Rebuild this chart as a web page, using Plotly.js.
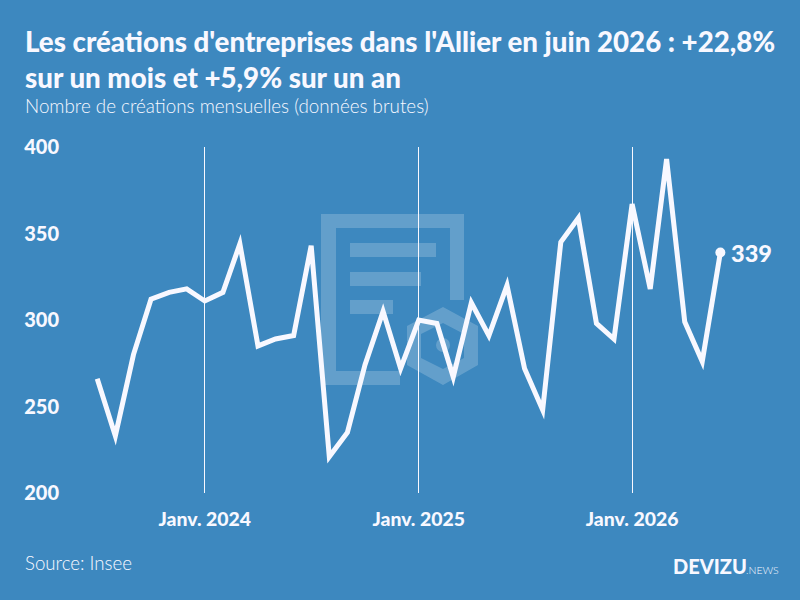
<!DOCTYPE html>
<html><head><meta charset="utf-8">
<script src="https://cdn.plot.ly/plotly-3.0.1.min.js"></script>
<style>html,body{margin:0;padding:0;background:#3d88bf}</style></head>
<body><div id="chart" style="width:800px;height:600px"></div>
<script>
const months = ["2023-07-01","2023-08-01","2023-09-01","2023-10-01","2023-11-01","2023-12-01",
"2024-01-01","2024-02-01","2024-03-01","2024-04-01","2024-05-01","2024-06-01","2024-07-01","2024-08-01","2024-09-01","2024-10-01","2024-11-01","2024-12-01",
"2025-01-01","2025-02-01","2025-03-01","2025-04-01","2025-05-01","2025-06-01","2025-07-01","2025-08-01","2025-09-01","2025-10-01","2025-11-01","2025-12-01",
"2026-01-01","2026-02-01","2026-03-01","2026-04-01","2026-05-01","2026-06-01"];
const creations = [266,233,280,312,316,318,311,316,344,285,289,291,343,221,235,274,305,272,300,298,267,310,291,320,272,248,345,359,298,289,367,318,393,299,276,339];
const tickDates = ["2024-01-01","2025-01-01","2026-01-01"];
const tickLabels = ["Janv. 2024","Janv. 2025","Janv. 2026"];
const yTicks = [200,250,300,350,400];
const INK = "#f8f8ff", BG = "#3d88bf", FONT = "Lato, 'Open Sans', sans-serif";
const W = 800, H = 600;
const wm = {type:"path",xref:"paper",yref:"paper",line:{width:0},fillcolor:"rgba(255,255,255,0.2)",layer:"below"};
const margin = {l:68,r:20,t:147,b:107};
const pw = W-margin.l-margin.r, ph = H-margin.t-margin.b;
const pxp = x => (x-margin.l)/pw, pyp = y => (margin.t+ph-y)/ph;
function P(pts){ return pts.map((p,i)=>(i?"L":"M")+pxp(p[0]).toFixed(4)+","+pyp(p[1]).toFixed(4)).join(" ")+" Z"; }
const shapes = [
 {...wm,path:P([[400,385],[321,385],[321,214],[464,214],[464,300],[450,300],[450,228],[336,228],[336,371],[400,371]])},
 {...wm,path:P([[350,243],[436,243],[436,257],[350,257]])},
 {...wm,path:P([[350,272],[421,272],[421,286],[350,286]])},
 {...wm,path:P([[350,300],[393,300],[393,314],[350,314]])},
 {...wm,path:P([[443,307],[478,326],[478,365],[443,385],[407,365],[407,326],[443,307],[443,323],[421,334],[421,358],[443,369],[464,358],[464,334],[443,323]])},
 {type:"circle",xref:"paper",yref:"paper",line:{width:0},fillcolor:"rgba(255,255,255,0.2)",layer:"below",x0:pxp(436),x1:pxp(450),y0:pyp(352),y1:pyp(338)}
];
const n = months.length-1;
const traces = [
 {x:months,y:creations,type:"scatter",mode:"lines",line:{color:INK,width:5},hoverinfo:"skip",cliponaxis:false},
 {x:[months[n]],y:[creations[n]],type:"scatter",mode:"markers",marker:{color:INK,size:10},cliponaxis:false,hoverinfo:"skip"}
];
const anno = (text,x,y,size,weight)=>({text,xref:"paper",yref:"paper",x:pxp(x),y:pyp(y),xanchor:"left",yanchor:"middle",showarrow:false,
  font:{family:FONT,size,color:INK,weight},align:"left"});
const layout = {
 width:W,height:H,margin,paper_bgcolor:BG,plot_bgcolor:"rgba(0,0,0,0)",showlegend:false,
 title:{text:"Les créations d'entreprises dans l'Allier en juin 2026 : +22,8%<br>sur un mois et +5,9% sur un an",
  x:25/W,xanchor:"left",y:1-52/H,yanchor:"top",font:{family:FONT,size:27.7,color:INK,weight:900}},
 xaxis:{type:"date",range:["2023-05-12","2026-09-11"],tickmode:"array",tickvals:tickDates,ticktext:tickLabels,showgrid:true,gridcolor:INK,gridwidth:1,
  zeroline:false,showline:false,ticks:"",ticklabelstandoff:13,tickfont:{family:FONT,size:19.4,color:INK,weight:900}},
 yaxis:{range:[200,400],tickmode:"array",tickvals:yTicks,ticktext:yTicks.map(String),showgrid:false,zeroline:false,showline:false,ticks:"",ticklabelstandoff:8,
  tickfont:{family:FONT,size:20,color:INK,weight:900}},
 shapes,
 annotations:[
  {text:String(creations[n]),x:months[n],y:creations[n],xref:"x",yref:"y",xanchor:"left",yanchor:"middle",xshift:9,showarrow:false,
   font:{family:FONT,size:23.5,color:INK,weight:900}},
  anno("Nombre de créations mensuelles (données brutes)",23,105,18.8,300),
  anno("Source: Insee",23,563,18.7,300),
  anno("DEVIZU",671,566,20,900),
  anno(".NEWS",744,570,10.5,300)
 ]
};
Plotly.newPlot("chart",traces,layout,{displayModeBar:false,staticPlot:true}).then(()=>{
 document.querySelectorAll(".js-line").forEach(p=>{p.style.strokeLinejoin="miter";p.style.strokeMiterlimit="4";});
});
</script></body></html>
